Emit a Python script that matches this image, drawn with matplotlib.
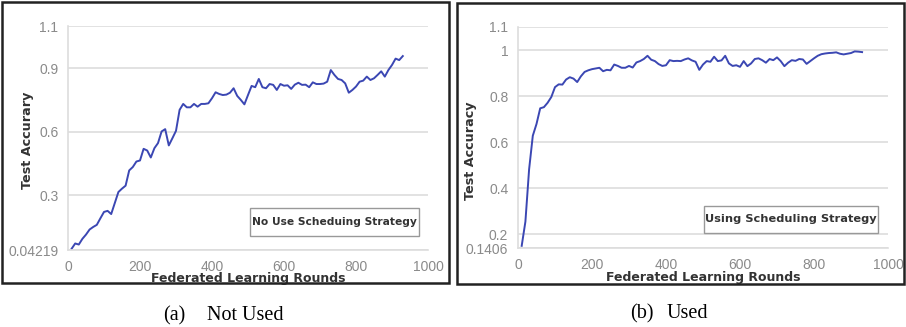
import matplotlib.pyplot as plt
from matplotlib.patches import Rectangle

# Test accuracy per federated learning round
rounds = list(range(10, 940, 10))

acc_not_used = [0.048, 0.073, 0.068, 0.095, 0.115, 0.139, 0.151, 0.161, 0.192, 0.222,
                0.227, 0.212, 0.264, 0.316, 0.332, 0.346, 0.418, 0.434, 0.460, 0.465,
                0.520, 0.512, 0.479, 0.523, 0.547, 0.602, 0.613, 0.536, 0.570, 0.605,
                0.704, 0.732, 0.716, 0.716, 0.732, 0.719, 0.732, 0.732, 0.735, 0.759,
                0.787, 0.779, 0.774, 0.776, 0.785, 0.806, 0.770, 0.751, 0.730, 0.774,
                0.817, 0.811, 0.850, 0.811, 0.806, 0.826, 0.822, 0.798, 0.826, 0.818,
                0.820, 0.803, 0.823, 0.832, 0.822, 0.823, 0.811, 0.834, 0.826, 0.826,
                0.828, 0.837, 0.892, 0.869, 0.850, 0.845, 0.829, 0.785, 0.798, 0.814,
                0.837, 0.842, 0.861, 0.845, 0.853, 0.869, 0.886, 0.861, 0.892, 0.916,
                0.946, 0.939, 0.958]

acc_used = [0.150, 0.255, 0.482, 0.628, 0.679, 0.747, 0.752, 0.771, 0.796, 0.839,
            0.851, 0.850, 0.872, 0.882, 0.876, 0.861, 0.886, 0.905, 0.912, 0.917,
            0.920, 0.923, 0.908, 0.914, 0.912, 0.937, 0.931, 0.923, 0.923, 0.931,
            0.924, 0.946, 0.952, 0.961, 0.975, 0.958, 0.952, 0.939, 0.931, 0.934,
            0.956, 0.952, 0.953, 0.952, 0.959, 0.964, 0.955, 0.949, 0.914, 0.937,
            0.952, 0.949, 0.971, 0.952, 0.955, 0.975, 0.942, 0.931, 0.934, 0.927,
            0.952, 0.930, 0.942, 0.961, 0.964, 0.956, 0.945, 0.961, 0.956, 0.968,
            0.952, 0.930, 0.945, 0.956, 0.953, 0.961, 0.959, 0.940, 0.952, 0.964,
            0.975, 0.982, 0.985, 0.987, 0.988, 0.990, 0.984, 0.981, 0.984, 0.987,
            0.994, 0.993, 0.991]

xticks = [0, 200, 400, 600, 800, 1000]
yticks_a = [0.04219, 0.3, 0.6, 0.9, 1.1]
ytick_labels_a = ['0.04219', '0.3', '0.6', '0.9', '1.1']
yticks_b = [0.1406, 0.2, 0.4, 0.6, 0.8, 1.0, 1.1]
ytick_labels_b = ['0.1406', '0.2', '0.4', '0.6', '0.8', '1', '1.1']

line_color = '#3b47b3'
grid_color = '#dddddd'
tick_color = '#8a8a8a'
label_color = '#333333'

fig = plt.figure(figsize=(9.06, 3.27), dpi=100)


def style_panel(ax, yticks, ylabels, ylabel, ylabel_pos, xlabel_y,
                legend_text, legend_box, legend_size):
    ax.set_xlim(0, 1000)
    ax.set_ylim(yticks[0], yticks[-1])
    ax.set_xticks(xticks)
    ax.set_yticks(yticks)
    ax.set_yticklabels(ylabels)
    ax.tick_params(length=0, labelsize=10, labelcolor=tick_color, pad=7)
    for t in ax.get_xticklabels() + ax.get_yticklabels():
        t.set_family('Liberation Sans')
    for s in ['top', 'right']:
        ax.spines[s].set_visible(False)
    for s in ['left', 'bottom']:
        ax.spines[s].set_color(grid_color)
        ax.spines[s].set_linewidth(1.2)
    ax.grid(axis='y', color=grid_color, linewidth=1.2)
    ax.set_axisbelow(True)
    ax.set_xlabel('Federated Learning Rounds', fontsize=9, fontweight='bold',
                  color=label_color)
    ax.xaxis.set_label_coords(0.5, xlabel_y)
    ax.set_ylabel(ylabel, fontsize=9.2, fontweight='bold', color=label_color)
    ax.yaxis.set_label_coords(*ylabel_pos)
    bx, by, bw, bh = legend_box
    ax.add_patch(Rectangle((bx, by), bw, bh, transform=ax.transAxes,
                           fc='white', ec='#999999', lw=1, zorder=5))
    ax.text(bx + bw / 2, by + bh / 2, legend_text, transform=ax.transAxes,
            ha='center', va='center', fontsize=legend_size, fontweight='bold',
            color=label_color, zorder=6)


# (a) without scheduling
ax1 = fig.add_axes([68 / 906, 1 - 250 / 327, 360 / 906, 224 / 327])
ax1.plot(rounds, acc_not_used, color=line_color, linewidth=1.4)
style_panel(ax1, yticks_a, ytick_labels_a, 'Test Accurary', (-0.094, 0.49), -0.098,
            'No Use Scheduing Strategy', (0.5056, 0.0625, 0.469, 0.125), 7.7)

# (b) with scheduling
ax2 = fig.add_axes([518 / 906, 1 - 248 / 327, 370 / 906, 221 / 327])
ax2.plot(rounds, acc_used, color=line_color, linewidth=1.4)
style_panel(ax2, yticks_b, ytick_labels_b, 'Test Accuracy', (-0.112, 0.44), -0.104,
            'Using Scheduling Strategy', (0.503, 0.068, 0.47, 0.122), 8.2)

# outer frames around each panel
fig.patches.append(Rectangle((1.5 / 906, 1 - 283 / 327), 447 / 906, 281 / 327,
                             transform=fig.transFigure, fill=False, ec='#222222', lw=1.8))
fig.patches.append(Rectangle((457 / 906, 1 - 284 / 327), 447 / 906, 281 / 327,
                             transform=fig.transFigure, fill=False, ec='#222222', lw=1.8))

# captions
cap = dict(fontsize=14.5, family='Liberation Serif', va='baseline', ha='left')
fig.text(163 / 906, 1 - 320 / 327, '(a)', **cap)
fig.text(207 / 906, 1 - 320 / 327, 'Not Used', **cap)
fig.text(630 / 906, 1 - 318 / 327, '(b)', **cap)
fig.text(667 / 906, 1 - 318 / 327, 'Used', **cap)

fig.savefig('out.png', dpi=100)
